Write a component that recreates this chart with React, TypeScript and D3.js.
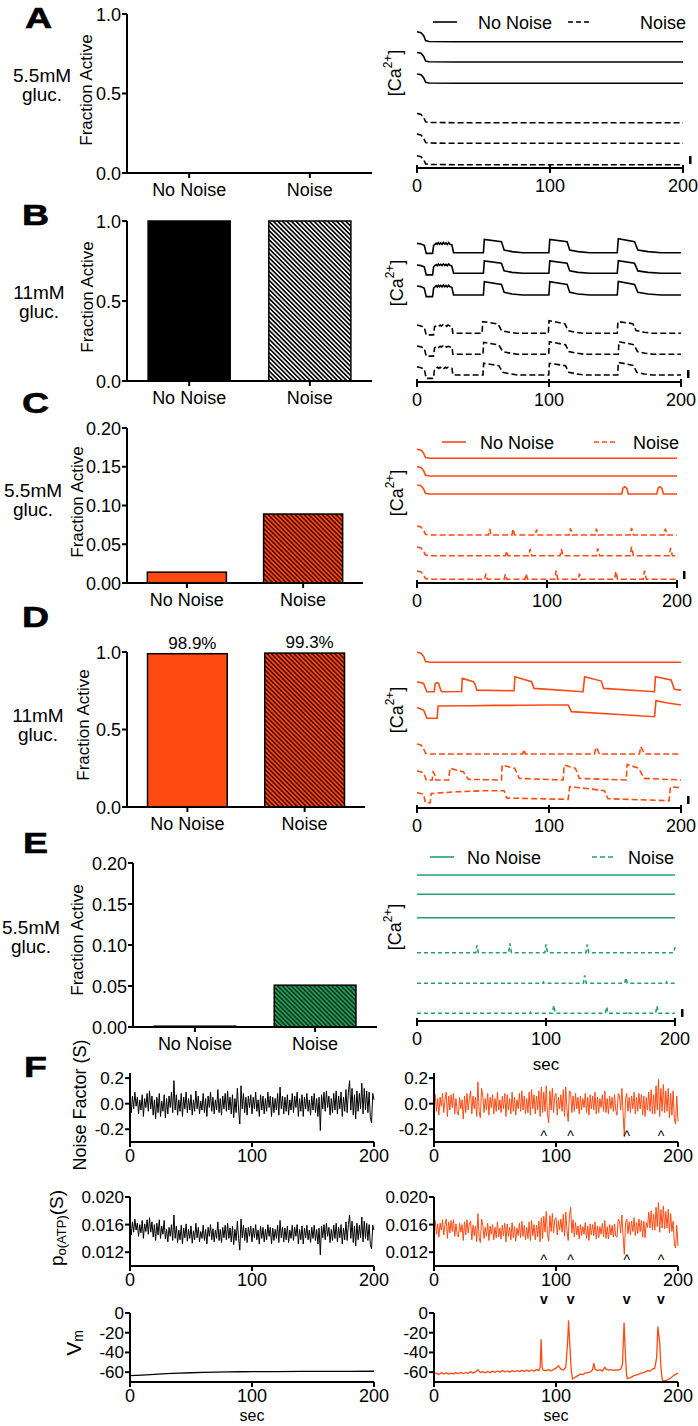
import React from "react";
import * as d3 from "d3";

type Pt = [number, number];

const FONT = "'Liberation Sans', Arial, Helvetica, sans-serif";
const BLACK = "#000000";
const ORANGE = "#FF4A12";
const GREEN = "#25A06A";

// ---------- Bar chart data ----------
const barCategories = ["No Noise", "Noise"];
const fracA = [0, 0];
const fracB = [1.0, 1.0];
const fracC = [0.014, 0.089];
const fracD = [0.989, 0.993];
const fracE = [0.001, 0.051];
const pctLabelsD = ["98.9%", "99.3%"];
const ticksFrac1 = [0, 0.5, 1.0];
const ticksFrac02 = [0, 0.05, 0.1, 0.15, 0.2];
const timeTicks = [0, 100, 200];

// ---------- [Ca2+] traces (time s, relative Ca level) ----------
const caA_noNoise: Pt[][] = [
  [[0, 0.75], [3, 0.68], [5, 0.45], [6.5, 0.08], [9, 0.02], [30, 0], [200, 0]],
  [[0, 0.72], [3, 0.66], [5, 0.42], [6.5, 0.07], [9, 0.02], [30, 0], [200, 0]],
  [[0, 0.7], [3, 0.64], [5, 0.42], [6.5, 0.07], [9, 0.02], [30, 0], [200, 0]],
];
const caA_noise: Pt[][] = [
  [[0, 0.7], [3, 0.62], [5, 0.4], [6.5, 0.06], [9, 0.02], [30, 0], [200, 0]],
  [[0, 0.7], [3, 0.62], [5, 0.4], [6.5, 0.06], [9, 0.02], [30, 0], [200, 0]],
  [[0, 0.68], [3, 0.6], [5, 0.38], [6.5, 0.06], [9, 0.02], [30, 0], [200, 0]],
];

const caB_noNoise: Pt[][] = [
  [[0, 0.7], [3, 0.66], [5.5, 0.55], [7, -0.05], [11.8, -0.05], [12.6, 0.55], [13.5, 0.62], [14.5, 0.72], [15.3, 0.63], [16.2, 0.76], [17, 0.64], [18, 0.74], [19, 0.62], [20, 0.77], [21, 0.65], [22, 0.74], [23, 0.62], [24, 0.76], [25, 0.64], [26.4, 0.6], [27.7, 0], [50.3, 0], [51, 1.0], [64, 0.82], [66, 0.2], [72, 0.08], [80, 0], [99.9, 0], [100.6, 1.0], [113.7, 0.82], [115.7, 0.2], [122, 0.08], [131, 0], [151.7, 0], [152.5, 1.05], [164.8, 0.82], [167.3, 0.2], [175, 0.08], [185, 0], [200, 0]],
  [[0, 0.62], [3, 0.58], [5.5, 0.48], [7, -0.12], [11.8, -0.12], [12.6, 0.5], [13.5, 0.58], [14.5, 0.66], [15.3, 0.57], [16.2, 0.7], [17, 0.6], [18, 0.68], [19, 0.58], [20, 0.7], [21, 0.6], [22, 0.68], [23, 0.57], [24, 0.7], [25, 0.6], [26.4, 0.55], [27.7, 0], [50.3, 0], [51, 0.93], [64, 0.75], [66, 0.18], [72, 0.07], [80, 0], [99.9, 0], [100.6, 0.93], [113.7, 0.75], [115.7, 0.18], [122, 0.07], [131, 0], [151.7, 0], [152.5, 0.95], [164.8, 0.75], [167.3, 0.18], [175, 0.07], [185, 0], [200, 0]],
  [[0, 0.68], [3, 0.63], [5.5, 0.5], [7, -0.12], [11.8, -0.12], [12.6, 0.52], [13.5, 0.6], [14.5, 0.7], [15.3, 0.6], [16.2, 0.73], [17, 0.62], [18, 0.72], [19, 0.6], [20, 0.74], [21, 0.62], [22, 0.72], [23, 0.6], [24, 0.73], [25, 0.62], [26.4, 0.58], [27.7, 0], [50.3, 0], [51, 1.0], [64, 0.8], [66, 0.2], [72, 0.08], [80, 0], [99.9, 0], [100.6, 1.0], [113.7, 0.8], [115.7, 0.2], [122, 0.08], [131, 0], [151.7, 0], [152.5, 1.02], [164.8, 0.8], [167.3, 0.2], [175, 0.08], [185, 0], [200, 0]],
];
const caB_noise: Pt[][] = [
  [[0, 0.62], [3, 0.55], [5.5, 0.45], [7, -0.12], [12.5, -0.12], [13.3, 0.5], [14.5, 0.55], [15.5, 0.6], [16.5, 0.52], [17.5, 0.62], [18.5, 0.54], [19.5, 0.63], [20.5, 0.53], [21.5, 0.6], [22.5, 0.52], [23.5, 0.62], [25, 0.55], [26.5, 0.5], [27.2, 0], [49.3, 0], [49.8, 0.88], [61.5, 0.7], [64, 0.2], [70, 0.08], [75, 0], [99.5, 0], [100, 0.95], [112, 0.72], [114.5, 0.2], [120, 0.08], [126, 0], [151.7, 0], [152.2, 0.88], [163.5, 0.72], [166, 0.2], [172, 0.08], [178, 0], [200, 0]],
  [[0, 0.62], [3, 0.56], [5.5, 0.45], [7, -0.14], [12.5, -0.14], [13.3, 0.48], [14.5, 0.56], [15.5, 0.62], [16.5, 0.52], [17.5, 0.6], [18.5, 0.55], [19.5, 0.62], [20.5, 0.52], [21.5, 0.6], [22.5, 0.54], [23.5, 0.6], [25, 0.55], [26.5, 0.52], [27.2, 0], [50, 0], [50.5, 0.9], [62, 0.7], [65, 0.2], [71, 0.08], [76, 0], [99.8, 0], [100.3, 0.95], [112.5, 0.72], [115, 0.2], [121, 0.08], [127, 0], [152.5, 0], [153, 0.95], [164.5, 0.72], [167, 0.2], [173, 0.08], [179, 0], [200, 0]],
  [[0, 0.62], [3, 0.55], [5.5, 0.45], [7, -0.25], [12.5, -0.25], [13.3, 0.45], [14.5, 0.52], [15.5, 0.58], [16.5, 0.5], [17.5, 0.58], [18.5, 0.52], [19.5, 0.6], [20.5, 0.5], [21.5, 0.58], [22.5, 0.52], [23.5, 0.58], [25, 0.52], [26.5, 0.5], [27.2, 0], [50, 0], [50.5, 0.88], [62, 0.7], [65, 0.2], [71, 0.08], [76, 0], [99.8, 0], [100.3, 0.88], [112.5, 0.7], [115, 0.2], [121, 0.08], [127, 0], [152, 0], [152.5, 0.95], [164, 0.72], [166.5, 0.2], [172, 0.08], [178, 0], [200, 0]],
];

const caC_noNoise: Pt[][] = [
  [[0, 0.68], [3, 0.62], [5, 0.4], [6.5, 0.05], [10, 0], [200, 0]],
  [[0, 0.7], [3, 0.64], [5, 0.42], [6.5, 0.05], [10, 0], [200, 0]],
  [[0, 0.68], [3, 0.62], [5, 0.4], [6.5, 0.05], [10, 0], [157.5, 0], [158.5, 0.45], [160, 0.55], [161.5, 0.4], [162.5, 0], [184.5, 0], [185.5, 0.45], [187, 0.55], [188.5, 0.4], [189.5, 0], [200, 0]],
];
const caC_noise: Pt[][] = [
  [[0, 0.68], [3, 0.6], [5, 0.38], [6.5, 0.05], [10, 0], [55, 0], [56, 0.45], [57, 0], [73, 0], [74, 0.45], [75, 0], [91, 0], [92, 0.42], [93, 0], [117, 0], [118, 0.5], [119.5, 0], [137, 0], [138, 0.48], [139.5, 0], [164, 0], [165, 0.52], [166.5, 0], [190, 0], [191, 0.48], [192.5, 0], [200, 0]],
  [[0, 0.65], [3, 0.58], [5, 0.36], [6.5, 0.05], [10, 0], [68, 0], [69, 0.35], [70, 0], [86, 0], [87, 0.5], [88.3, 0], [110, 0], [111, 0.5], [112.3, 0], [138, 0], [139, 0.55], [140.5, 0], [164, 0], [165, 0.68], [166.5, 0], [194, 0], [195, 0.58], [196.5, 0], [200, 0]],
  [[0, 0.62], [3, 0.55], [5, 0.35], [6.5, 0.05], [10, 0], [52, 0], [53, 0.42], [54, 0], [67, 0], [68, 0.38], [69, 0], [83, 0], [84, 0.42], [85, 0], [106, 0], [107, 0.65], [108.3, 0], [124, 0], [125, 0.42], [126, 0], [152, 0], [153, 0.6], [154.3, 0], [174, 0], [175, 0.65], [176.5, 0], [200, 0]],
];

const caD_noNoise: Pt[][] = [
  [[0, 0.75], [3, 0.68], [5, 0.45], [6.5, 0.05], [10, 0], [200, 0]],
  [[0, 0.75], [5, 0.62], [7.5, 0], [13, 0], [13.8, 0.62], [15, 0.68], [16.4, 0.62], [18, 0.1], [18.9, 0], [33.8, 0.02], [34.3, 1.0], [42.8, 0.75], [44, 0.55], [45.3, 0.12], [73.5, 0.07], [74.2, 1.12], [86.8, 0.75], [88.6, 0.25], [125.8, 0], [127, 1.12], [139.6, 0.8], [141.4, 0.25], [179.9, 0], [180.6, 1.12], [192.5, 0.88], [195, 0.18], [200, 0.12]],
  [[0, 0.82], [5, 0.62], [7.5, 0], [15.3, 0], [16, 0.92], [40, 0.94], [60, 0.97], [80, 0.98], [100, 1.0], [114.5, 1.0], [117, 0.5], [150, 0.3], [180, 0.12], [181, 1.32], [190, 1.15], [200, 1.0]],
];
const caD_noise: Pt[][] = [
  [[0, 0.75], [3, 0.68], [5, 0.4], [6.5, 0.05], [10, 0], [80, 0], [81, 0.35], [82, 0], [134.5, 0], [135.5, 0.5], [137, 0.3], [138, 0], [168.5, 0], [169.5, 0.55], [171, 0.3], [172, 0], [200, 0]],
  [[0, 0.7], [5, 0.55], [7, 0], [11.5, 0], [12.3, 0.6], [13.5, 0.4], [14.3, 0], [23.9, 0], [25, 0.88], [35, 0.62], [39, 0.05], [64, 0], [64.5, 1.12], [74, 0.88], [77.5, 0.12], [110.7, 0], [111.5, 1.12], [120, 0.88], [123, 0.12], [158.5, 0], [159.2, 1.18], [168, 0.88], [172, 0.12], [200, 0]],
  [[0, 0.75], [5, 0.65], [6.3, 0], [10, 0], [10.8, 0.7], [30, 0.82], [50, 0.9], [66, 0.9], [68, 0.35], [114.5, 0.25], [115.7, 1.2], [130, 1.05], [142, 0.9], [144.7, 0.3], [191, 0.15], [192, 1.2], [200, 1.12]],
];

const caE_noNoise: Pt[][] = [
  [[0, 0], [200, 0]],
  [[0, 0], [200, 0]],
  [[0, 0], [200, 0]],
];
const caE_noise: Pt[][] = [
  [[0, 0], [45.5, 0], [46.5, 0.55], [47.5, 0], [71, 0], [72, 0.7], [73.2, 0], [99, 0], [100, 0.62], [101.2, 0], [131, 0], [132, 0.62], [133.2, 0], [199, 0], [200, 0.42]],
  [[0, 0], [69.5, 0], [70, 0.06], [70.5, 0], [97.5, 0], [98, 0.1], [98.5, 0], [129, 0], [130, 0.6], [131.2, 0], [161, 0], [162, 0.42], [163, 0], [193, 0], [193.5, 0.1], [194, 0], [200, 0]],
  [[0, 0], [87.5, 0], [88, 0.08], [88.5, 0], [105, 0], [106, 0.6], [107.2, 0], [146, 0], [147, 0.48], [148, 0], [163.5, 0], [164, 0.1], [164.5, 0], [185, 0], [186, 0.55], [187.2, 0], [200, 0]],
];

// ---------- Panel F: noise factor S, KATP open probability, membrane potential ----------
const noiseDt = 1; // seconds between samples
const noiseFactorNoNoiseCell = [
  0.02, -0.07, 0.06, -0.04, 0.09, -0.02, 0.05, -0.08, 0.03, -0.05,
  0.07, -0.1, 0.04, -0.03, 0.08, -0.06, 0.1, -0.04, 0.06, -0.09,
  0.03, -0.12, 0.05, -0.07, 0.08, -0.1, 0.02, -0.06, 0.07, -0.11,
  0.04, -0.08, 0.06, -0.03, 0.09, -0.07, 0.18, -0.05, 0.07, -0.09,
  0.03, -0.06, 0.08, -0.1, 0.05, -0.04, 0.09, -0.07, 0.04, -0.05,
  0.07, -0.09, 0.03, -0.06, 0.1, -0.04, 0.06, -0.08, 0.02, -0.05,
  0.08, -0.07, 0.04, -0.1, 0.06, -0.03, 0.09, -0.06, 0.05, -0.08,
  0.03, -0.05, 0.11, -0.07, 0.04, -0.09, 0.06, -0.04, 0.08, -0.06,
  0.1, -0.05, 0.05, -0.08, 0.07, -0.11, 0.04, -0.07, 0.12, -0.05,
  -0.16, 0.14, -0.04, 0.08, -0.07, 0.05, -0.09, 0.06, -0.03, 0.07,
  -0.08, 0.05, -0.04, 0.09, -0.06, 0.03, -0.1, 0.07, -0.05, 0.06,
  -0.08, 0.04, -0.06, 0.09, -0.03, 0.06, -0.1, 0.05, -0.07, 0.04,
  -0.05, 0.08, -0.09, 0.13, -0.04, 0.06, -0.08, 0.05, -0.06, 0.07,
  -0.09, 0.03, -0.05, 0.08, -0.07, 0.06, -0.03, 0.09, -0.1, 0.04,
  -0.06, 0.07, -0.1, 0.05, -0.04, 0.08, -0.06, 0.03, -0.09, 0.06,
  -0.05, 0.08, -0.07, 0.04, -0.1, 0.05, -0.21, 0.07, -0.04, 0.09,
  -0.06, 0.1, -0.03, 0.06, -0.09, 0.04, -0.07, 0.08, -0.05, 0.1,
  -0.08, 0.06, -0.04, 0.09, -0.1, 0.05, -0.06, 0.11, -0.07, 0.09,
  0.18, -0.05, 0.12, -0.09, 0.07, -0.12, 0.1, -0.06, 0.08, -0.04,
  0.16, -0.08, 0.12, -0.05, 0.1, -0.07, 0.09, -0.11, -0.15, 0.08,
  0.03,
];
const noiseFactorNoiseCell = [
  -0.03, 0.07, -0.06, 0.04, -0.09, 0.05, -0.02, 0.08, -0.07, 0.03,
  0.09, -0.1, 0.06, -0.05, 0.07, -0.03, 0.08, -0.08, 0.04, -0.06,
  -0.09, 0.05, -0.04, 0.03, -0.12, 0.06, -0.07, 0.08, -0.05, 0.04,
  0.1, -0.08, 0.06, -0.04, 0.05, -0.1, 0.17, -0.06, -0.11, 0.12,
  0.06, -0.07, 0.04, -0.05, 0.08, -0.09, 0.05, -0.03, 0.07, -0.08,
  0.04, -0.06, 0.09, -0.05, 0.03, -0.07, 0.06, -0.04, 0.08, -0.1,
  0.07, -0.05, 0.04, -0.08, 0.09, -0.06, 0.05, -0.09, 0.03, -0.04,
  0.08, -0.06, 0.1, -0.05, 0.06, -0.08, 0.04, -0.07, 0.09, -0.09,
  0.11, -0.04, 0.07, -0.08, 0.06, -0.05, 0.1, -0.1, 0.13, -0.07,
  0.09, -0.06, 0.14, -0.08, -0.15, 0.1, -0.05, 0.12, -0.07, 0.06,
  0.08, -0.09, 0.05, -0.04, 0.07, -0.06, 0.11, -0.1, 0.13, -0.05,
  -0.14, 0.1, 0.09, -0.07, 0.06, -0.06, 0.08, -0.04, 0.05, -0.08,
  0.06, -0.05, 0.04, -0.03, 0.08, -0.07, 0.05, -0.09, 0.07, -0.04,
  0.06, -0.05, 0.09, -0.08, 0.05, -0.07, 0.04, -0.03, 0.07, -0.06,
  0.1, -0.07, 0.04, -0.08, 0.06, -0.04, 0.05, -0.06, 0.07, -0.05,
  -0.09, 0.08, 0.06, -0.05, 0.12, -0.08, -0.26, 0.04, 0.08, -0.06,
  0.05, -0.07, 0.06, -0.04, 0.09, -0.08, 0.05, -0.06, 0.08, -0.04,
  0.07, -0.09, 0.06, -0.1, 0.05, -0.05, 0.09, -0.06, 0.11, -0.08,
  0.07, -0.08, 0.14, -0.05, 0.19, -0.1, 0.12, -0.06, 0.15, -0.07,
  0.1, -0.06, 0.12, -0.11, 0.08, -0.09, 0.1, -0.12, -0.16, 0.06,
  -0.14,
];
// open probability, in units of 1e-4
const poUnit = 1e-4;
const poNoNoiseCell = [
  158, 145, 164, 149, 168, 152, 162, 143, 160, 148,
  166, 140, 161, 150, 167, 146, 170, 149, 164, 142,
  160, 137, 162, 145, 167, 140, 158, 146, 166, 139,
  153, 135, 156, 143, 160, 137, 174, 140, 158, 134,
  152, 138, 159, 132, 155, 141, 161, 136, 153, 140,
  158, 133, 151, 138, 162, 141, 156, 135, 150, 140,
  159, 137, 153, 132, 156, 143, 160, 138, 154, 135,
  152, 140, 164, 137, 153, 134, 156, 141, 159, 138,
  162, 140, 155, 135, 158, 131, 153, 137, 165, 140,
  123, 168, 141, 159, 137, 155, 134, 156, 143, 158,
  135, 155, 141, 160, 138, 152, 132, 158, 140, 156,
  135, 153, 138, 160, 143, 156, 132, 155, 137, 153,
  140, 159, 134, 166, 141, 156, 135, 155, 138, 158,
  134, 152, 140, 159, 137, 156, 143, 160, 132, 153,
  138, 158, 132, 155, 141, 159, 138, 152, 134, 156,
  140, 159, 137, 153, 132, 155, 116, 158, 141, 160,
  138, 162, 143, 156, 134, 153, 137, 159, 140, 162,
  135, 156, 141, 160, 132, 155, 138, 164, 137, 160,
  174, 140, 165, 134, 158, 129, 162, 138, 159, 141,
  171, 135, 165, 140, 162, 137, 160, 131, 125, 159,
  152,
];
const poNoiseCell = [
  150, 166, 146, 161, 142, 162, 152, 167, 145, 160,
  168, 140, 164, 148, 166, 150, 167, 143, 161, 146,
  142, 162, 149, 160, 137, 164, 145, 167, 148, 161,
  165, 138, 159, 144, 158, 135, 176, 141, 134, 168,
  159, 140, 156, 143, 162, 137, 158, 146, 160, 138,
  156, 141, 164, 142, 155, 139, 159, 144, 162, 135,
  161, 143, 156, 138, 163, 141, 157, 136, 155, 144,
  162, 141, 165, 143, 159, 138, 156, 140, 164, 137,
  166, 144, 160, 138, 159, 142, 165, 135, 170, 140,
  172, 149, 179, 146, 136, 173, 150, 176, 148, 167,
  170, 145, 166, 152, 168, 149, 175, 143, 178, 151,
  137, 173, 185, 148, 167, 142, 163, 145, 158, 139,
  160, 144, 157, 146, 163, 140, 158, 137, 161, 145,
  160, 144, 164, 139, 158, 141, 157, 146, 162, 142,
  166, 140, 157, 139, 160, 145, 159, 142, 161, 143,
  142, 168, 165, 148, 174, 144, 117, 162, 168, 147,
  164, 145, 165, 150, 170, 144, 163, 147, 168, 150,
  166, 142, 165, 141, 163, 156, 178, 155, 180, 152,
  175, 152, 185, 157, 192, 149, 182, 155, 187, 154,
  179, 155, 182, 148, 176, 150, 165, 132, 126, 159,
  129,
];
const vmNoNoiseCell: Pt[] = [[0, -63.5], [10, -63], [20, -62.3], [30, -61.6], [40, -61], [50, -60.6], [60, -60.3], [70, -60], [80, -59.8], [90, -59.6], [100, -59.5], [120, -59.4], [140, -59.3], [160, -59.2], [180, -59.2], [200, -59.1]];
const vmNoiseCell: Pt[] = [[0, -62], [2, -61], [4, -62.5], [6, -60.5], [8, -61.8], [10, -60.8], [12, -62], [14, -61], [16, -61.8], [18, -60.5], [20, -61.5], [22, -60.2], [24, -61.6], [26, -60.4], [28, -61.2], [30, -59.5], [32, -61], [34, -59.8], [36, -57.5], [38, -60.5], [40, -59.5], [42, -60.8], [44, -59.2], [46, -60.5], [48, -59], [50, -60.2], [52, -58.8], [54, -60], [56, -58.5], [58, -59.8], [60, -58.6], [62, -60], [64, -58.5], [66, -59.6], [68, -58.3], [70, -59.5], [72, -58.2], [74, -59.3], [76, -58], [78, -59.2], [80, -57.8], [82, -59], [84, -57.5], [86, -58.5], [87, -55], [87.8, -27], [88.6, -55], [89.5, -58], [92, -58.5], [94, -57.5], [96, -58.8], [98, -57.2], [100, -56], [102, -53.5], [104, -57], [106, -58], [108, -55], [109.5, -30], [110.3, -8], [111, -25], [112.5, -58], [113.5, -67], [116, -65], [118, -63.5], [120, -62], [122, -62.5], [124, -61], [126, -60.5], [128, -60], [130, -57.5], [131, -51], [132, -57], [134, -58.5], [136, -57.5], [138, -59], [140, -55], [141, -57], [143, -58], [145, -57.5], [147, -58.2], [149, -57.6], [151, -58], [153, -57], [154.5, -52], [155.8, -10], [156.8, -40], [157.8, -62], [158.5, -66.5], [161, -65.5], [164, -63.5], [167, -62.5], [170, -61], [173, -60], [175, -58.5], [177, -59], [179, -57], [181, -56], [182.5, -45], [183.5, -14], [185, -30], [186, -55], [187, -67], [188, -69], [191, -68], [194, -66], [197, -63], [200, -61]];
const eventTimes = [90, 112, 158, 186];
const noiseTicks = [-0.2, 0, 0.2];
const poTicks = [0.012, 0.016, 0.02];
const vmTicks = [-60, -40, -20, 0];

const toSeries = (vals: number[], unit = 1): Pt[] => vals.map((v, i) => [i * noiseDt, v * unit]);

// ---------- components ----------
function Label({ x, y, size = 18, anchor = "middle", rotate = false, weight = 400, children }: any) {
  return (
    <text
      transform={`translate(${x},${y})${rotate ? " rotate(-90)" : ""}`}
      textAnchor={anchor}
      dominantBaseline="central"
      fontSize={size}
      fontWeight={weight}
      fontFamily={FONT}
      fill="#000"
    >
      {children}
    </text>
  );
}

function PanelLetter({ letter, x, y }: { letter: string; x: number; y: number }) {
  return (
    <text transform={`translate(${x},${y}) scale(1.25,1)`} fontSize={30} fontWeight={700} fontFamily={FONT} stroke="#000" strokeWidth={0.6}>
      {letter}
    </text>
  );
}

function BarPanel(p: any) {
  const x = d3.scaleBand<string>().domain(barCategories).range([p.x0, p.x1]).paddingInner(0.32).paddingOuter(0.175);
  const y = d3.scaleLinear().domain([0, p.max]).range([p.yBottom, p.yTop]);
  const fmt = d3.format(p.fmt);
  return (
    <g>
      <PanelLetter letter={p.letter} x={p.lx} y={p.ly} />
      <Label x={p.gx} y={p.gy} size={19}>{p.gluc}</Label>
      <Label x={p.gx} y={p.gy + 19} size={19}>gluc.</Label>
      <Label x={p.fx} y={p.fy} size={17} rotate>Fraction Active</Label>
      {barCategories.map((c, i) => {
        const v = p.values[i];
        if (v <= 0) return null;
        return (
          <rect key={c} x={x(c)} y={y(v)} width={x.bandwidth()} height={y(0) - y(v)} fill={p.fills[i]} stroke="#000" strokeWidth={1.5} />
        );
      })}
      {p.pct &&
        barCategories.map((c, i) => (
          <text key={"p" + c} x={(x(c) as number) + x.bandwidth() / 2 + 5} y={y(p.values[i]) - 5} textAnchor="middle" fontSize={17} fontFamily={FONT}>
            {p.pct[i]}
          </text>
        ))}
      <line x1={p.x0} x2={p.x0} y1={y(p.max)} y2={p.yBottom + 1} stroke="#000" strokeWidth={2} />
      <line x1={p.x0} x2={p.x1} y1={p.yBottom} y2={p.yBottom} stroke="#000" strokeWidth={2} />
      {p.ticks.map((t: number) => (
        <g key={t}>
          <line x1={p.x0 - 5} x2={p.x0} y1={y(t)} y2={y(t)} stroke="#000" strokeWidth={2} />
          <text x={p.x0 - 6} y={y(t) + 6.5} textAnchor="end" fontSize={18} fontFamily={FONT}>
            {fmt(t)}
          </text>
        </g>
      ))}
      {barCategories.map((c) => {
        const cx = (x(c) as number) + x.bandwidth() / 2;
        return (
          <g key={"x" + c}>
            <line x1={cx} x2={cx} y1={p.yBottom} y2={p.yBottom + 5} stroke="#000" strokeWidth={2} />
            <text x={cx} y={p.yBottom + 23} textAnchor="middle" fontSize={18} fontFamily={FONT}>
              {c}
            </text>
          </g>
        );
      })}
    </g>
  );
}

function CaLabel({ x, y }: { x: number; y: number }) {
  return (
    <text transform={`translate(${x},${y}) rotate(-90)`} textAnchor="middle" dominantBaseline="central" fontSize={18} fontFamily={FONT}>
      [Ca<tspan fontSize={12} dy={-7}>2+</tspan>
      <tspan dy={7}>]</tspan>
    </text>
  );
}

function CaPanel(p: any) {
  const x = d3.scaleLinear().domain([0, 200]).range([p.x0, p.x1]);
  const unit = 13.3;
  const draw = (trace: Pt[], base: number) => {
    const y = d3.scaleLinear().domain([0, 1]).range([base, base - unit]);
    return d3.line<Pt>().x((d) => x(d[0])).y((d) => y(d[1]))(trace) as string;
  };
  return (
    <g>
      <CaLabel x={p.lx} y={p.ly} />
      {p.legendY !== undefined && (
        <g>
          <line x1={p.leg[0]} x2={p.leg[0] + 24} y1={p.legendY} y2={p.legendY} stroke={p.color} strokeWidth={1.6} />
          <text x={p.leg[1]} y={p.legendY + 6.5} fontSize={18} fontFamily={FONT}>No Noise</text>
          <line x1={p.leg[2]} x2={p.leg[2] + 23} y1={p.legendY} y2={p.legendY} stroke={p.color} strokeWidth={1.6} strokeDasharray="5,3" />
          <text x={p.leg[3]} y={p.legendY + 6.5} fontSize={18} fontFamily={FONT}>Noise</text>
        </g>
      )}
      {p.solid.map((tr: Pt[], i: number) => (
        <path key={"s" + i} d={draw(tr, p.solidBase[i])} fill="none" stroke={p.color} strokeWidth={1.6} />
      ))}
      {p.dashed.map((tr: Pt[], i: number) => (
        <path key={"d" + i} d={draw(tr, p.dashedBase[i])} fill="none" stroke={p.color} strokeWidth={1.6} strokeDasharray={p.dash} />
      ))}
      <rect x={p.x1 + 6} y={p.axisY - 12} width={2.5} height={8} fill="#000" />
      <line x1={p.x0 - 1} x2={p.x1 + 1} y1={p.axisY} y2={p.axisY} stroke="#000" strokeWidth={2} />
      {timeTicks.map((t) => (
        <g key={t}>
          <line x1={x(t)} x2={x(t)} y1={p.axisY - 3} y2={p.axisY + 5} stroke="#000" strokeWidth={2} />
          <text x={x(t)} y={p.axisY + 24} textAnchor="middle" fontSize={18} fontFamily={FONT}>{t}</text>
        </g>
      ))}
    </g>
  );
}

function TracePanel(p: any) {
  const x = d3.scaleLinear().domain([0, 200]).range([p.x0, p.x1]);
  const y = d3.scaleLinear().domain(p.domain).range([p.yBottom, p.yTop]);
  const path = d3.line<Pt>().x((d) => x(d[0])).y((d) => y(d[1]))(p.data) as string;
  return (
    <g>
      <path d={path} fill="none" stroke={p.color} strokeWidth={p.lw || 1} strokeLinejoin="round" />
      <line x1={p.x0} x2={p.x0} y1={p.yTop} y2={p.yBottom + 1} stroke="#000" strokeWidth={2} />
      <line x1={p.x0} x2={p.x1} y1={p.yBottom} y2={p.yBottom} stroke="#000" strokeWidth={2} />
      {p.ticks.map((t: number) => (
        <g key={t}>
          <line x1={p.x0 - 5} x2={p.x0} y1={y(t)} y2={y(t)} stroke="#000" strokeWidth={2} />
          <text x={p.x0 - 6} y={y(t) + 6} textAnchor="end" fontSize={17} fontFamily={FONT}>{p.fmt(t)}</text>
        </g>
      ))}
      {timeTicks.map((t) => (
        <g key={"x" + t}>
          <line x1={x(t)} x2={x(t)} y1={p.yBottom} y2={p.yBottom + 5} stroke="#000" strokeWidth={2} />
          <text x={x(t)} y={p.yBottom + 20} textAnchor="middle" fontSize={18} fontFamily={FONT}>{t}</text>
        </g>
      ))}
      {p.up &&
        eventTimes.map((t) => (
          <text key={"u" + t} x={x(t)} y={p.up + 6} textAnchor="middle" fontSize={14} fontFamily={FONT}>^</text>
        ))}
      {p.down &&
        eventTimes.map((t) => (
          <text key={"v" + t} x={x(t)} y={p.down + 4} textAnchor="middle" fontSize={14} fontWeight={700} fontFamily={FONT}>v</text>
        ))}
      {p.sec && (
        <text x={(p.x0 + p.x1) / 2} y={1421} textAnchor="middle" fontSize={16} fontFamily={FONT}>sec</text>
      )}
    </g>
  );
}

export default function App() {
  const fNoise = (v: number) => (v === 0 ? "0.0" : d3.format(".1f")(v)).replace("−", "-");
  const fPo = (v: number) => d3.format(".3f")(v);
  const fVm = (v: number) => String(v);
  const xL: [number, number] = [130, 374];
  const xR: [number, number] = [434, 678];
  return (
    <svg width={698} height={1426} style={{ position: "absolute", left: 0, top: 0, background: "#fff" }} fontFamily={FONT}>
      <defs>
        <pattern id="hatchBW" patternUnits="userSpaceOnUse" width={3.2} height={3.2} patternTransform="rotate(-45)">
          <rect width={3.2} height={3.2} fill="#fff" />
          <line x1={1.6} x2={1.6} y1={0} y2={3.2} stroke="#000" strokeWidth={1.7} />
        </pattern>
        <pattern id="hatchOr" patternUnits="userSpaceOnUse" width={3.2} height={3.2} patternTransform="rotate(-45)">
          <rect width={3.2} height={3.2} fill={ORANGE} />
          <line x1={1.6} x2={1.6} y1={0} y2={3.2} stroke="#4A0C00" strokeWidth={1.6} />
        </pattern>
        <pattern id="hatchGr" patternUnits="userSpaceOnUse" width={3.2} height={3.2} patternTransform="rotate(-45)">
          <rect width={3.2} height={3.2} fill="#2A9A5A" />
          <line x1={1.6} x2={1.6} y1={0} y2={3.2} stroke="#0C3A1E" strokeWidth={1.6} />
        </pattern>
      </defs>
      <rect width={698} height={1426} fill="#fff" />

      {/* Bar panels */}
      <BarPanel letter="A" lx={25} ly={28} gluc="5.5mM" gx={42} gy={75} fx={86} fy={90} x0={127} x1={372} yTop={14} yBottom={173} max={1} ticks={ticksFrac1} fmt=".1f" values={fracA} fills={[BLACK, "url(#hatchBW)"]} />
      <BarPanel letter="B" lx={22} ly={225} gluc="11mM" gx={39} gy={292} fx={87} fy={297} x0={127} x1={372} yTop={221} yBottom={381} max={1} ticks={ticksFrac1} fmt=".1f" values={fracB} fills={[BLACK, "url(#hatchBW)"]} />
      <BarPanel letter="C" lx={22} ly={413} gluc="5.5mM" gx={33} gy={490} fx={77} fy={502} x0={127} x1={363} yTop={428} yBottom={583} max={0.2} ticks={ticksFrac02} fmt=".2f" values={fracC} fills={[ORANGE, "url(#hatchOr)"]} />
      <BarPanel letter="D" lx={22} ly={627} gluc="11mM" gx={38} gy={715} fx={83} fy={725} x0={127} x1={365} yTop={652} yBottom={807} max={1} ticks={ticksFrac1} fmt=".1f" values={fracD} fills={[ORANGE, "url(#hatchOr)"]} pct={pctLabelsD} />
      <BarPanel letter="E" lx={23} ly={853} gluc="5.5mM" gx={31} gy={927} fx={77} fy={940} x0={133} x1={377} yTop={863} yBottom={1027} max={0.2} ticks={ticksFrac02} fmt=".2f" values={fracE} fills={[GREEN, "url(#hatchGr)"]} />

      {/* Ca panels */}
      <CaPanel x0={417} x1={683} axisY={168} lx={395} ly={73} color={BLACK} dash="6,3" solid={caA_noNoise} dashed={caA_noise} solidBase={[41.7, 62, 83.3]} dashedBase={[122.7, 143.3, 164.7]} legendY={22} leg={[433, 478, 568, 640]} />
      <CaPanel x0={417} x1={681} axisY={382} lx={397} ly={283} color={BLACK} dash="6,3" solid={caB_noNoise} dashed={caB_noise} solidBase={[252.7, 273.3, 295]} dashedBase={[333.3, 354.3, 375]} />
      <CaPanel x0={417} x1={677} axisY={583} lx={397} ly={493} color={ORANGE} dash="6,3" solid={caC_noNoise} dashed={caC_noise} solidBase={[458.3, 476, 494]} dashedBase={[535, 555.7, 579.3]} legendY={442} leg={[442, 480, 594, 633]} />
      <CaPanel x0={417} x1={681} axisY={808} lx={397} ly={710} color={ORANGE} dash="6,3" solid={caD_noNoise} dashed={caD_noise} solidBase={[662.3, 691.7, 718.3]} dashedBase={[754, 780, 802.7]} />
      <CaPanel x0={417} x1={675} axisY={1021} lx={395} ly={927} color={GREEN} dash="4,3" solid={caE_noNoise} dashed={caE_noise} solidBase={[875, 894.3, 917.7]} dashedBase={[952.7, 983.3, 1013.3]} legendY={857} leg={[430, 467, 592, 628]} />
      <text x={546} y={1070} textAnchor="middle" fontSize={17} fontFamily={FONT}>sec</text>

      {/* Panel F */}
      <PanelLetter letter="F" x={24} y={1077} />
      <Label x={80} y={1105} size={18} rotate>Noise Factor (S)</Label>
      <text transform="translate(56,1228) rotate(-90)" textAnchor="middle" dominantBaseline="central" fontSize={19} fontFamily={FONT}>
        p<tspan fontSize={13} dy={5}>o(ATP)</tspan>
        <tspan dy={-5}>(S)</tspan>
      </text>
      <text transform="translate(73,1343) rotate(-90)" textAnchor="middle" dominantBaseline="central" fontSize={21} fontFamily={FONT}>
        V<tspan fontSize={14} dy={5}>m</tspan>
      </text>

      <TracePanel x0={xL[0]} x1={xL[1]} yTop={1073} yBottom={1142} domain={[-0.3, 0.24]} ticks={noiseTicks} fmt={fNoise} data={toSeries(noiseFactorNoNoiseCell)} color={BLACK} />
      <TracePanel x0={xR[0]} x1={xR[1]} yTop={1073} yBottom={1142} domain={[-0.3, 0.24]} ticks={noiseTicks} fmt={fNoise} data={toSeries(noiseFactorNoiseCell)} color={ORANGE} up={1135} />
      <TracePanel x0={xL[0]} x1={xL[1]} yTop={1197} yBottom={1266} domain={[0.01, 0.02]} ticks={poTicks} fmt={fPo} data={toSeries(poNoNoiseCell, poUnit)} color={BLACK} />
      <TracePanel x0={xR[0]} x1={xR[1]} yTop={1197} yBottom={1266} domain={[0.01, 0.02]} ticks={poTicks} fmt={fPo} data={toSeries(poNoiseCell, poUnit)} color={ORANGE} up={1259} />
      <TracePanel x0={xL[0]} x1={xL[1]} yTop={1313} yBottom={1382} domain={[-70, 0]} ticks={vmTicks} fmt={fVm} data={vmNoNoiseCell} color={BLACK} lw={1.3} sec />
      <TracePanel x0={xR[0]} x1={xR[1]} yTop={1313} yBottom={1382} domain={[-70, 0]} ticks={vmTicks} fmt={fVm} data={vmNoiseCell} color={ORANGE} lw={1.3} down={1300} sec />
    </svg>
  );
}
